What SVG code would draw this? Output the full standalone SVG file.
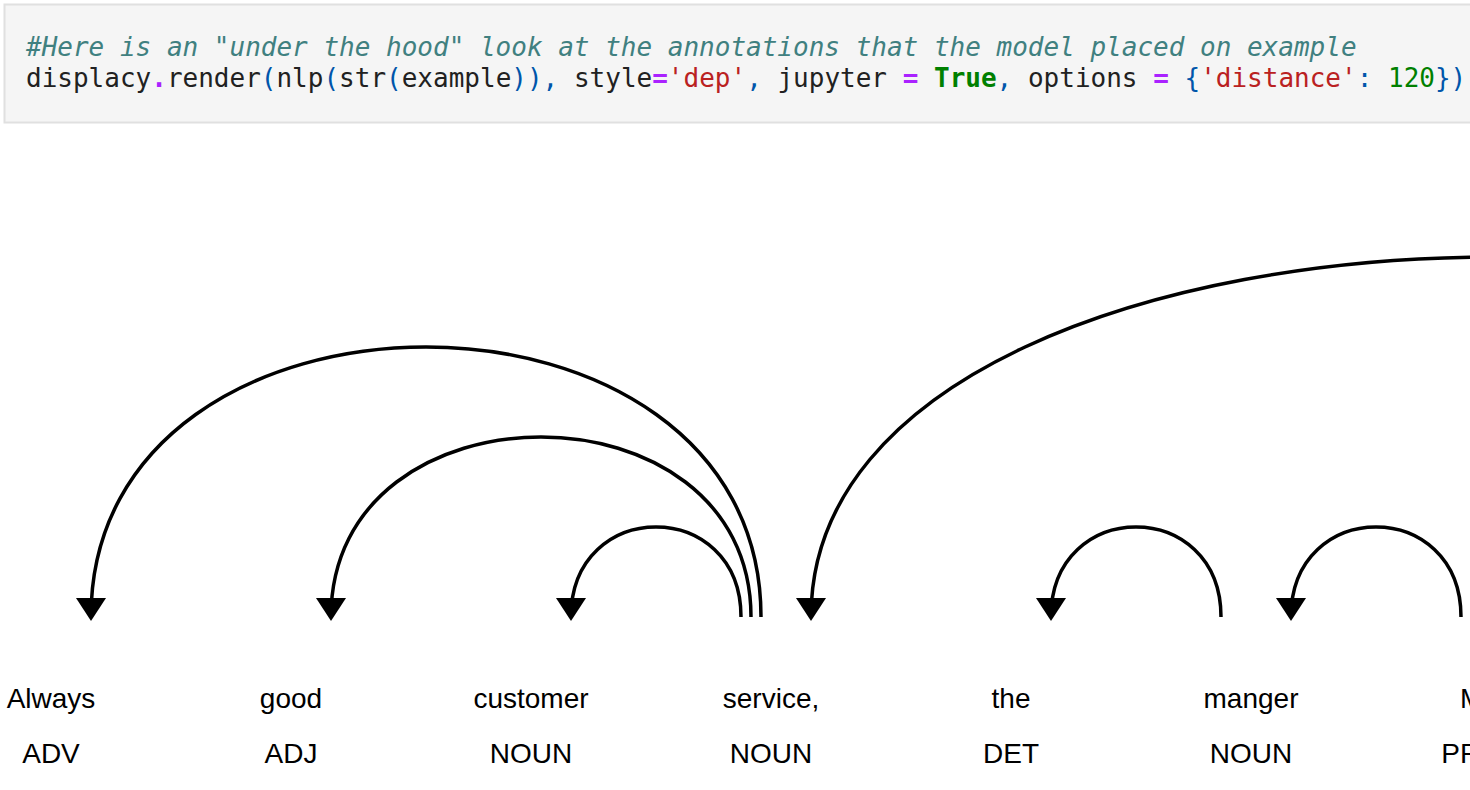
<svg xmlns="http://www.w3.org/2000/svg" width="1470" height="790" viewBox="0 0 1470 790">
<style>
.code{font-family:"DejaVu Sans Mono","Liberation Mono",monospace;font-size:26px;fill:#212121;white-space:pre}
.cm{fill:#408080;font-style:italic}
.op{fill:#aa22ff;font-weight:bold}
.br{fill:#0055aa}
.st{fill:#ba2121}
.kw{fill:#008000;font-weight:bold}
.nu{fill:#008000}
.tok{font-family:"Liberation Sans",Arial,sans-serif;font-size:28px;fill:#000;text-anchor:middle}
.arc{fill:none;stroke:#000;stroke-width:3.5}
.head{fill:#000}
</style>
<rect width="1470" height="790" fill="#ffffff"/>
<g id="code-cell">
<rect x="4.5" y="4.5" width="1480" height="118" fill="#f5f5f5" stroke="#e0e0e0" stroke-width="2"/>
<text class="code" x="26" y="56" xml:space="preserve"><tspan class="cm">#Here is an "under the hood" look at the annotations that the model placed on example</tspan></text>
<text class="code" x="26" y="87" xml:space="preserve">displacy<tspan class="op">.</tspan>render<tspan class="br">(</tspan>nlp<tspan class="br">(</tspan>str<tspan class="br">(</tspan>example<tspan class="br">)),</tspan> style<tspan class="op">=</tspan><tspan class="st">'dep'</tspan><tspan class="br">,</tspan> jupyter <tspan class="op">=</tspan> <tspan class="kw">True</tspan><tspan class="br">,</tspan> options <tspan class="op">=</tspan> <tspan class="br">{</tspan><tspan class="st">'distance'</tspan><tspan class="br">:</tspan> <tspan class="nu">120</tspan><tspan class="br">})</tspan></text>
</g>
<g id="tokens">
<g id="tok-0"><text class="tok" x="51" y="708">Always</text><text class="tok" x="51" y="763">ADV</text></g>
<g id="tok-1"><text class="tok" x="291" y="708">good</text><text class="tok" x="291" y="763">ADJ</text></g>
<g id="tok-2"><text class="tok" x="531" y="708">customer</text><text class="tok" x="531" y="763">NOUN</text></g>
<g id="tok-3"><text class="tok" x="771" y="708">service,</text><text class="tok" x="771" y="763">NOUN</text></g>
<g id="tok-4"><text class="tok" x="1011" y="708">the</text><text class="tok" x="1011" y="763">DET</text></g>
<g id="tok-5"><text class="tok" x="1251" y="708">manger</text><text class="tok" x="1251" y="763">NOUN</text></g>
<g id="tok-6"><text class="tok" x="1460" y="708" style="text-anchor:start">M</text><text class="tok" x="1491" y="763">PROPN</text></g>
</g>
<g id="arcs">
<path class="arc" d="M741,617 C741,497 571,497 571,617"/>
<path class="head" d="M571,621 L556,598 586,598 Z"/>
<path class="arc" d="M751,617 C751,377 331,377 331,617"/>
<path class="head" d="M331,621 L316,598 346,598 Z"/>
<path class="arc" d="M761,617 C761,257 91,257 91,617"/>
<path class="head" d="M91,621 L76,598 106,598 Z"/>
<path class="arc" d="M2181,617 C2181,137 811,137 811,617"/>
<path class="head" d="M811,621 L796,598 826,598 Z"/>
<path class="arc" d="M1221,617 C1221,497 1051,497 1051,617"/>
<path class="head" d="M1051,621 L1036,598 1066,598 Z"/>
<path class="arc" d="M1461,617 C1461,497 1291,497 1291,617"/>
<path class="head" d="M1291,621 L1276,598 1306,598 Z"/>
</g>
</svg>
